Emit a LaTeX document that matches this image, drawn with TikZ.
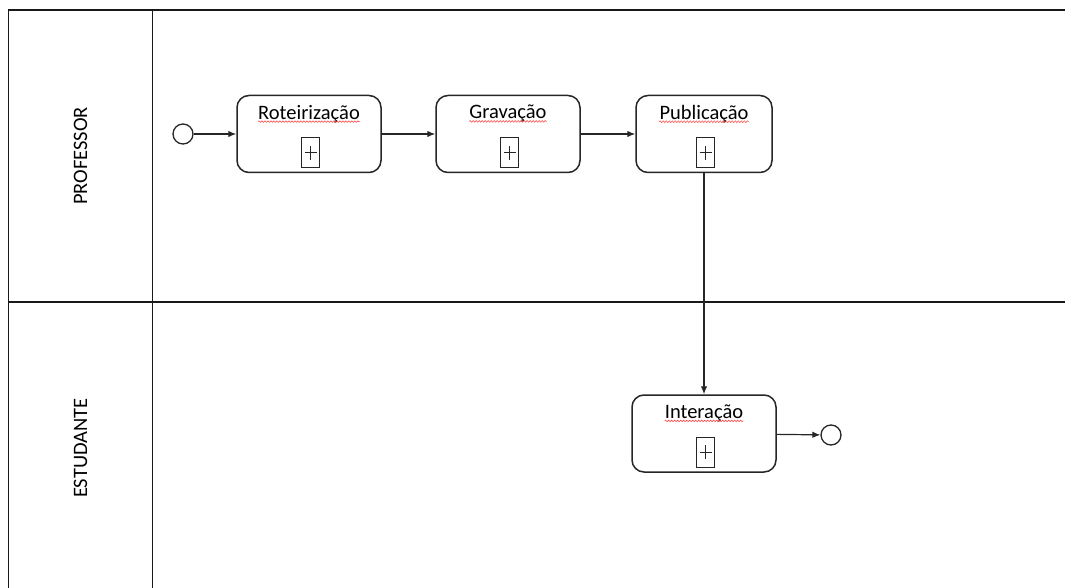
\documentclass[tikz,border=0pt]{standalone}
\usepackage{fontspec}
\setmainfont{Carlito}
\usetikzlibrary{arrows.meta,decorations.pathmorphing,calc}
\begin{document}
\begin{tikzpicture}[x=1pt,y=-1pt,
  lane/.style={draw=black!90,line width=1.7pt},
  task/.style={draw=black!85,line width=1.5pt,rounded corners=12pt,minimum width=144pt,minimum height=77pt,inner sep=0pt},
  event/.style={circle,draw=black!85,line width=1.3pt,minimum size=20pt,inner sep=0pt},
  lbl/.style={font=\fontsize{20.5}{24}\selectfont,text=black,inner sep=0pt},
  lanelbl/.style={font=\fontsize{20.5}{24}\selectfont,text=black,inner sep=0pt,rotate=90},
  plusbox/.style={draw=black!85,line width=1.1pt,minimum width=18pt,minimum height=30pt,inner sep=0pt},
  flow/.style={draw=black!85,line width=1.2pt,-{Latex[length=8pt,width=6.5pt]}},
  squig/.style={draw=red!80,line width=0.5pt,decorate,decoration={snake,amplitude=0.8pt,segment length=3pt}}
]
\useasboundingbox (0,0) rectangle (1065,588);
\fill[white] (0,0) rectangle (1065,588);
% pool and lanes
\coordinate (tl) at (8.5,10);
\coordinate (tr) at (1065,10);
\coordinate (bl) at (8.5,588);
\coordinate (dt) at (152.5,10);
\coordinate (db) at (152.5,588);
\coordinate (sl) at (8.5,302);
\coordinate (sr) at (1065,302);
\draw[lane] (tr) -- (tl) -- (bl);
\draw[lane] (dt) -- (db);
\draw[lane] (sl) -- (sr);
\node[lanelbl] (lp) at (80.5,156) {PROFESSOR};
\node[lanelbl] (le) at (80.5,448) {ESTUDANTE};
% events
\node[event] (start) at (183,134) {};
\node[event] (end) at (831,435) {};
% tasks
\node[task] (r) at (309,134) {};
\node[task] (g) at (508,134) {};
\node[task,minimum width=136pt] (p) at (704,134) {};
\node[task] (i) at (704,433.5) {};
% labels, markers
\foreach \t/\s in {r/Roteirização,g/Gravação,p/Publicação,i/Interação}{
  \node[lbl] (\t l) at ($(\t.north)+(0,19)$) {\s};
  \draw[squig] ([yshift=-2.5pt]\t l.base west) -- ([yshift=-2.5pt]\t l.base east);
  \node[plusbox] (\t m) at ($(\t.north)+(1.5,58)$) {};
  \draw[line width=1pt,black!85] ([xshift=-6pt]\t m.center) -- ([xshift=6pt]\t m.center);
  \draw[line width=1pt,black!85] ([yshift=-7pt]\t m.center) -- ([yshift=7pt]\t m.center);
}
% flows
\draw[flow] (start) -- (r);
\draw[flow] (r) -- (g);
\draw[flow] (g) -- (p);
\draw[flow] (p) -- (i);
\draw[flow] (i) -- (end);
\end{tikzpicture}
\end{document}
